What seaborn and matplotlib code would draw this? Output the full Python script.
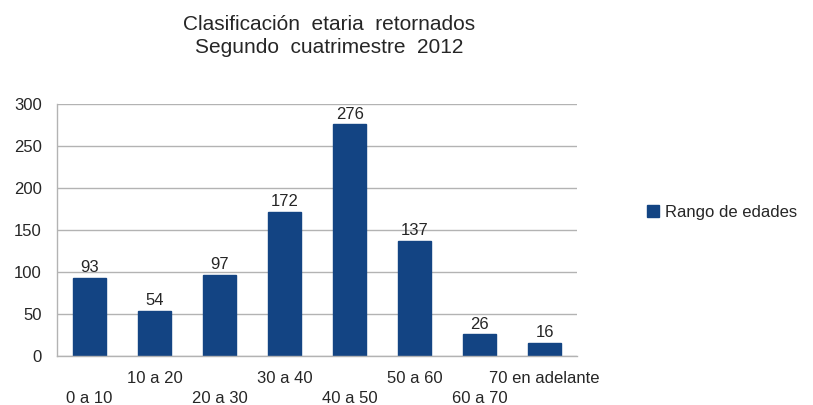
import numpy as np
import pandas as pd
import matplotlib
matplotlib.use("Agg")
import matplotlib.pyplot as plt
import seaborn as sns
from matplotlib.ticker import FixedLocator

categories = ['0 a 10', '10 a 20', '20 a 30', '30 a 40', '40 a 50',
              '50 a 60', '60 a 70', '70 en adelante']
values = [93, 54, 97, 172, 276, 137, 26, 16]
series_name = 'Rango de edades'
yticks = [0, 50, 100, 150, 200, 250, 300]

bar_color = '#134483'
grid_color = '#b3b3b3'

sns.set_style('white')
plt.rcParams['font.family'] = ['Liberation Sans', 'DejaVu Sans']

df = pd.DataFrame({'rango': categories, 'cantidad': values, 'serie': series_name})

fig = plt.figure(figsize=(8.13, 4.05), dpi=100)
ax = fig.add_axes([0.070, 0.121, 0.640, 0.622])

sns.barplot(data=df, x='rango', y='cantidad', hue='serie', palette=[bar_color],
            width=0.5, ax=ax, saturation=1, edgecolor=bar_color)

ax.set_xlim(-0.5, len(categories) - 0.5)
ax.set_ylim(0, 300)
ax.set_yticks(yticks)
ax.yaxis.grid(True, color=grid_color, linewidth=1)
ax.set_axisbelow(True)
ax.set_xlabel('')
ax.set_ylabel('')

for s in ['top', 'right']:
    ax.spines[s].set_visible(False)
for s in ['left', 'bottom']:
    ax.spines[s].set_color(grid_color)
    ax.spines[s].set_linewidth(1)

# staggered category labels: even ones on a lower row
ax.set_xticks(range(len(categories)))
ax.set_xticklabels(categories, fontsize=12)
ax.tick_params(axis='x', which='major', length=0)
for i, t in enumerate(ax.xaxis.get_major_ticks()):
    t.set_pad(25 if i % 2 == 0 else 11)
ax.xaxis.set_minor_locator(FixedLocator(np.arange(-0.5, len(categories), 1.0)))
ax.tick_params(axis='x', which='minor', length=6, color=grid_color, width=1)
ax.tick_params(axis='y', length=7, color=grid_color, width=1, labelsize=12, pad=4)

for i, v in enumerate(values):
    ax.text(i, v + 3, str(v), ha='center', va='bottom', fontsize=12)

ax.legend(loc='center left', bbox_to_anchor=(1.105, 0.57), frameon=False,
          fontsize=12, handlelength=0.7, handleheight=0.7, handletextpad=0.4)

fig.suptitle('Clasificación  etaria  retornados\nSegundo  cuatrimestre  2012',
             fontsize=15, y=0.963, x=0.405, linespacing=1.3)

fig.savefig('out.png', dpi=100)
